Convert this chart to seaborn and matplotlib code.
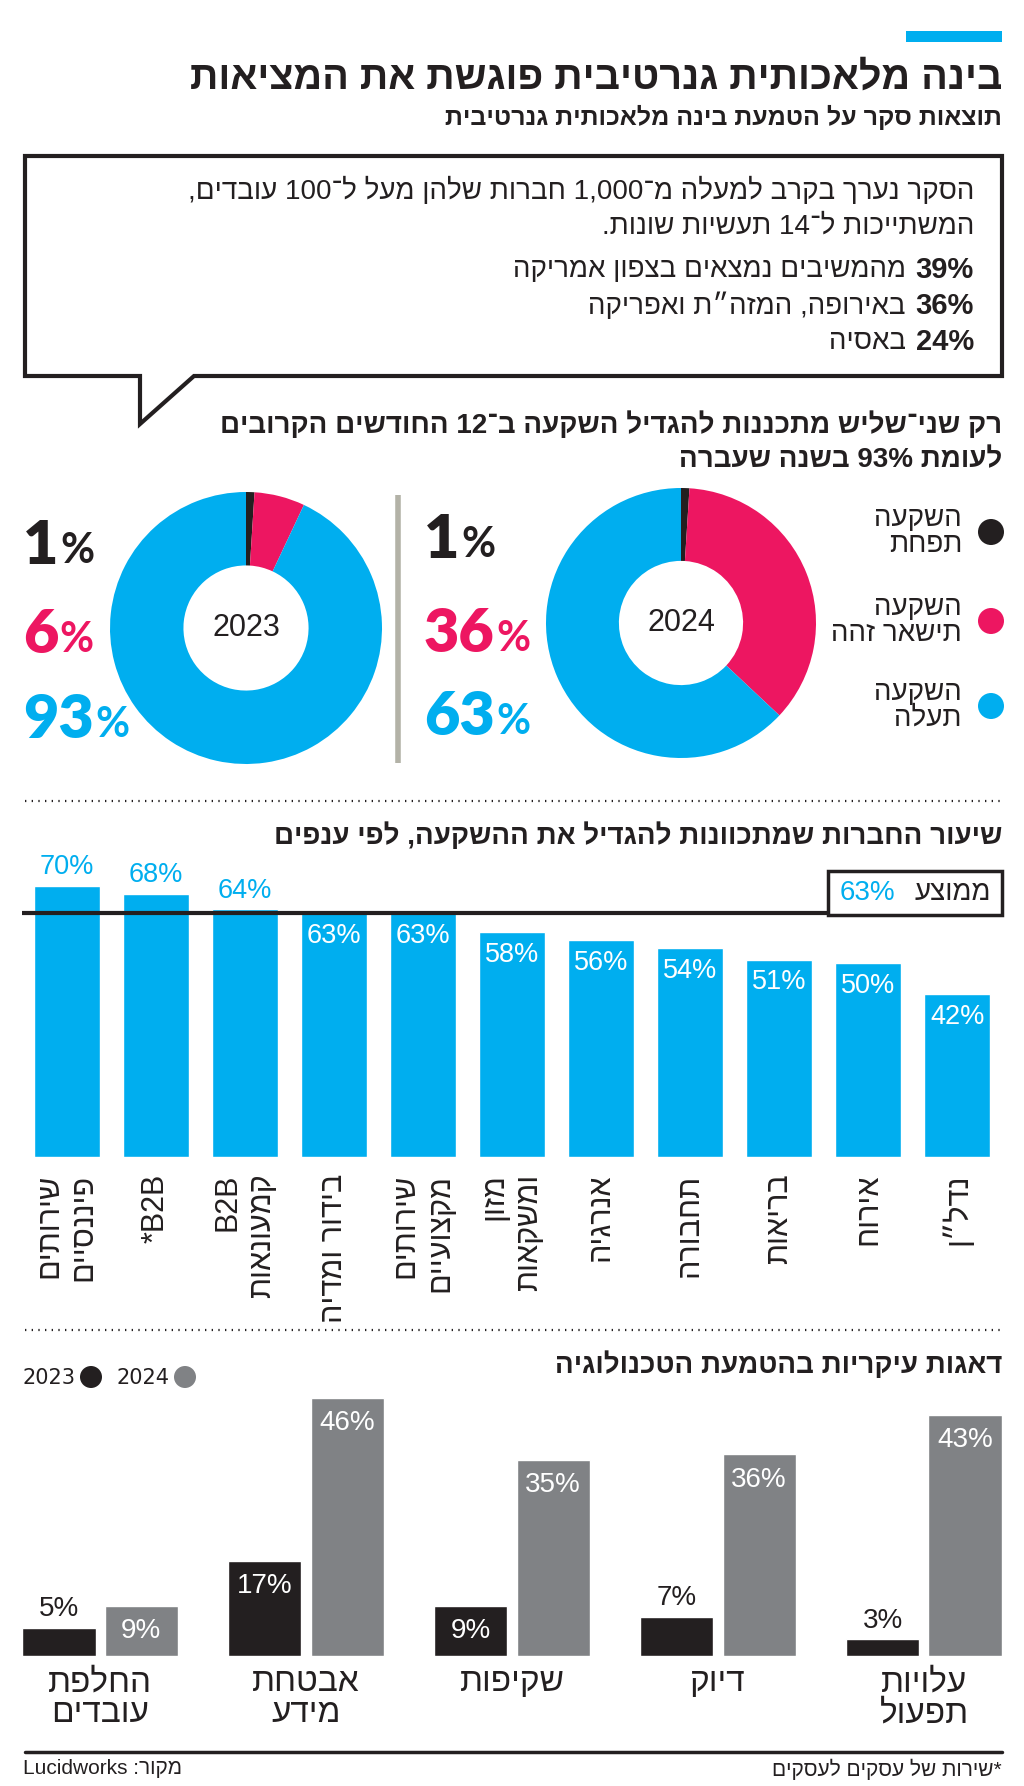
import re
import numpy as np
import pandas as pd
import matplotlib
matplotlib.use('Agg')
import matplotlib.pyplot as plt
import seaborn as sns
from matplotlib.patches import Rectangle, Circle, Polygon

# colours
BLUE = '#00aeef'
PINK = '#ed1661'
BLACK = '#231f20'
GRAY = '#808285'
SEP = '#b3b2a7'

# data
title = 'בינה מלאכותית גנרטיבית פוגשת את המציאות'
subtitle = 'תוצאות סקר על הטמעת בינה מלאכותית גנרטיבית'
intro_lines = ['הסקר נערך בקרב למעלה מ־1,000 חברות שלהן מעל ל־100 עובדים,',
               'המשתייכות ל־14 תעשיות שונות.']
region_pct = [39, 36, 24]
region_txt = ['מהמשיבים נמצאים בצפון אמריקה', 'באירופה, המזה״ת ואפריקה', 'באסיה']

donut_title = ['רק שני־שליש מתכננות להגדיל השקעה ב־12 החודשים הקרובים',
               'לעומת 93% בשנה שעברה']
invest_labels = ['השקעה\nתפחת', 'השקעה\nתישאר זהה', 'השקעה\nתעלה']
invest_colors = [BLACK, PINK, BLUE]
share_2023 = [1, 6, 93]
share_2024 = [1, 36, 63]

sector_title = 'שיעור החברות שמתכוונות להגדיל את ההשקעה, לפי ענפים'
sectors = ['שירותים\nפיננסיים', 'B2B*', 'B2B\nקמעונאות', 'בידור ומדיה', 'שירותים\nמקצועיים',
           'מזון\nומשקאות', 'אנרגיה', 'תחבורה', 'בריאות', 'אירוח', 'נדל״ן']
sector_pct = [70, 68, 64, 63, 63, 58, 56, 54, 51, 50, 42]
avg_pct = 63

concern_title = 'דאגות עיקריות בהטמעת הטכנולוגיה'
concerns = ['החלפת\nעובדים', 'אבטחת\nמידע', 'שקיפות', 'דיוק', 'עלויות\nתפעול']
years = ['2023', '2024']
concern_2023 = [5, 17, 9, 7, 3]
concern_2024 = [9, 46, 35, 36, 43]

footnote = '*שירות של עסקים לעסקים'
source = 'מקור: Lucidworks'


def heb(s):
    # matplotlib has no bidi support: flip RTL text to visual order, keep number/latin runs
    out = []
    for line in s.split('\n'):
        runs = re.findall(r'[A-Za-z0-9][A-Za-z0-9%,.]*[A-Za-z0-9%]|[A-Za-z0-9]|.', line)
        out.append(''.join(reversed(runs)))
    return '\n'.join(out)


sns.set_theme(style='white')
plt.rcParams['font.family'] = ['Liberation Sans', 'DejaVu Sans']

W, H = 1024, 1786
fig = plt.figure(figsize=(W / 100, H / 100), dpi=100)


def px_axes(x0, y0, x1, y1):
    return fig.add_axes([x0 / W, 1 - y1 / H, (x1 - x0) / W, (y1 - y0) / H])


# overlay in pixel coordinates (y down)
bg = fig.add_axes([0, 0, 1, 1])
bg.set_xlim(0, W)
bg.set_ylim(H, 0)
bg.axis('off')
bg.set_zorder(10)
bg.patch.set_alpha(0)

# header
bg.add_patch(Rectangle((906, 31), 96, 11, color=BLUE, lw=0))
bg.text(1002, 78, heb(title), ha='right', va='center', fontsize=28.5, fontweight='bold', color=BLACK)
bg.text(1002, 117, heb(subtitle), ha='right', va='center', fontsize=18, fontweight='bold', color=BLACK)

# callout box
bg.add_patch(Polygon([(25, 156), (1002, 156), (1002, 376), (194, 376), (140, 424),
                      (140, 376), (25, 376)], closed=True, fc='white', ec=BLACK, lw=3))
bg.text(974, 191, heb(intro_lines[0]), ha='right', va='center', fontsize=20, color=BLACK)
bg.text(974, 227, heb(intro_lines[1]), ha='right', va='center', fontsize=20, color=BLACK)
for i, (p, t) in enumerate(zip(region_pct, region_txt)):
    y = 270 + i * 36
    bg.text(974, y, f'{p}%', ha='right', va='center', fontsize=21, fontweight='bold', color=BLACK)
    bg.text(906, y, heb(t), ha='right', va='center', fontsize=20, color=BLACK)

# donut section
bg.text(1002, 425, heb(donut_title[0]), ha='right', va='center', fontsize=20, fontweight='bold', color=BLACK)
bg.text(1002, 460, heb(donut_title[1]), ha='right', va='center', fontsize=20, fontweight='bold', color=BLACK)

for shares, (cx, cy, r), year in [(share_2023, (246, 628, 136), '2023'),
                                  (share_2024, (681, 623, 135), '2024')]:
    ax = px_axes(cx - r, cy - r, cx + r, cy + r)
    ax.pie(shares, colors=invest_colors, startangle=90, counterclock=False,
           radius=1, wedgeprops=dict(width=0.54, linewidth=0))
    ax.set_xlim(-1, 1)
    ax.set_ylim(-1, 1)
    ax.set_aspect('equal')
    ax.axis('off')
    ax.text(0, 0, year, ha='center', va='center', fontsize=22, color=BLACK)

bg.plot([398, 398], [495, 763], color=SEP, lw=4, solid_capstyle='butt')


def big_pct(x, y, val, color):
    t = bg.text(x, y, str(val), ha='left', va='baseline', fontsize=44,
                fontweight='heavy', family='Lato', color=color)
    bg.annotate('%', xy=(1, 0), xycoords=t, xytext=(1, 3), textcoords='offset points',
                ha='left', va='bottom', fontsize=30, fontweight='bold', family='Lato', color=color)


for shares, x0, ys in [(share_2023, 23, [564, 653, 738]), (share_2024, 424, [558, 652, 735])]:
    for v, y, c in zip(shares, ys, invest_colors):
        big_pct(x0, y, v, c)

for lab, c, y in zip(invest_labels, invest_colors, [532, 621, 706]):
    bg.add_patch(Circle((991, y), 13, color=c, lw=0))
    bg.text(962, y, heb(lab), ha='right', va='center', fontsize=20, color=BLACK,
            multialignment='right', linespacing=1.0)

# sector bars
bg.plot([25, 1002], [801, 801], color=BLACK, lw=1.6, ls=(0, (0.6, 2.4)))
bg.text(1002, 836, heb(sector_title), ha='right', va='center', fontsize=20, fontweight='bold', color=BLACK)

px_per = (1157 - 886) / 70
ax = px_axes(22, 860, 1002, 1157)
df_sec = pd.DataFrame({'sector': [heb(s) for s in sectors], 'pct': sector_pct})
sns.barplot(data=df_sec, x='sector', y='pct', color=BLUE, saturation=1, width=0.74, ax=ax)
ax.set_xlim(-0.5, len(sectors) - 0.5)
ax.set_ylim(0, 297 / px_per)
ax.axhline(avg_pct, color=BLACK, lw=3)
for i, v in enumerate(sector_pct):
    if v > avg_pct:
        ax.annotate(f'{v}%', (i, v), xytext=(0, 4), textcoords='offset points',
                    ha='center', va='bottom', fontsize=19.5, color=BLUE)
    else:
        ax.annotate(f'{v}%', (i, v), xytext=(0, -7), textcoords='offset points',
                    ha='center', va='top', fontsize=19.5, color='white')
ax.set_xlabel('')
ax.set_ylabel('')
ax.set_yticks([])
ax.tick_params(axis='x', length=0, pad=12)
for lab in ax.get_xticklabels():
    lab.set_rotation(90)
    lab.set_va('top')
    lab.set_ha('center')
    lab.set_multialignment('right')
    lab.set_fontsize(22)
    lab.set_color(BLACK)
sns.despine(ax=ax, left=True, bottom=True)

bg.add_patch(Rectangle((828, 871), 174, 44, fc='white', ec=BLACK, lw=2.5))
bg.text(991, 893, heb('ממוצע'), ha='right', va='center', fontsize=20, color=BLACK)
bg.text(840, 893, f'{avg_pct}%', ha='left', va='center', fontsize=20, color=BLUE)

# concern grouped bars
bg.plot([25, 1002], [1330, 1330], color=BLACK, lw=1.6, ls=(0, (0.6, 2.4)))
bg.text(1002, 1365, heb(concern_title), ha='right', va='center', fontsize=20, fontweight='bold', color=BLACK)
for x_txt, x_dot, yr, c in [(23, 91, years[0], BLACK), (117, 185, years[1], GRAY)]:
    bg.text(x_txt, 1378, yr, ha='left', va='center', fontsize=15, family='DejaVu Sans', color=BLACK)
    bg.add_patch(Circle((x_dot, 1377), 11, color=c, lw=0))

px2 = (1656 - 1398) / 46
ax2 = px_axes(22, 1380, 1002, 1656)
df_con = pd.DataFrame({'concern': [heb(c) for c in concerns] * 2,
                       'year': [years[0]] * len(concerns) + [years[1]] * len(concerns),
                       'pct': concern_2023 + concern_2024})
sns.barplot(data=df_con, x='concern', y='pct', hue='year', palette=[BLACK, GRAY],
            saturation=1, width=0.8, gap=0.11, legend=False, ax=ax2)
ax2.set_xlim(-0.379, len(concerns) - 1 + 0.379)
ax2.set_ylim(0, 276 / px2)
for j, vals in enumerate([concern_2023, concern_2024]):
    off = -0.2 if j == 0 else 0.2
    for i, v in enumerate(vals):
        if v >= 9:
            ax2.annotate(f'{v}%', (i + off, v), xytext=(0, -9), textcoords='offset points',
                         ha='center', va='top', fontsize=20, color='white')
        else:
            ax2.annotate(f'{v}%', (i + off, v), xytext=(0, 4), textcoords='offset points',
                         ha='center', va='bottom', fontsize=20, color=BLACK)
ax2.set_xlabel('')
ax2.set_ylabel('')
ax2.set_yticks([])
ax2.tick_params(axis='x', length=0, pad=8)
for lab in ax2.get_xticklabels():
    lab.set_multialignment('center')
    lab.set_fontsize(24)
    lab.set_color(BLACK)
    lab.set_linespacing(1.0)
sns.despine(ax=ax2, left=True, bottom=True)

# footer
bg.plot([25, 1002], [1752, 1752], color=BLACK, lw=2.5)
bg.text(1002, 1769, heb(footnote), ha='right', va='center', fontsize=15, color=BLACK)
bg.text(23, 1769, heb(source), ha='left', va='center', fontsize=15, color=BLACK)

fig.savefig('out.png', dpi=100)
